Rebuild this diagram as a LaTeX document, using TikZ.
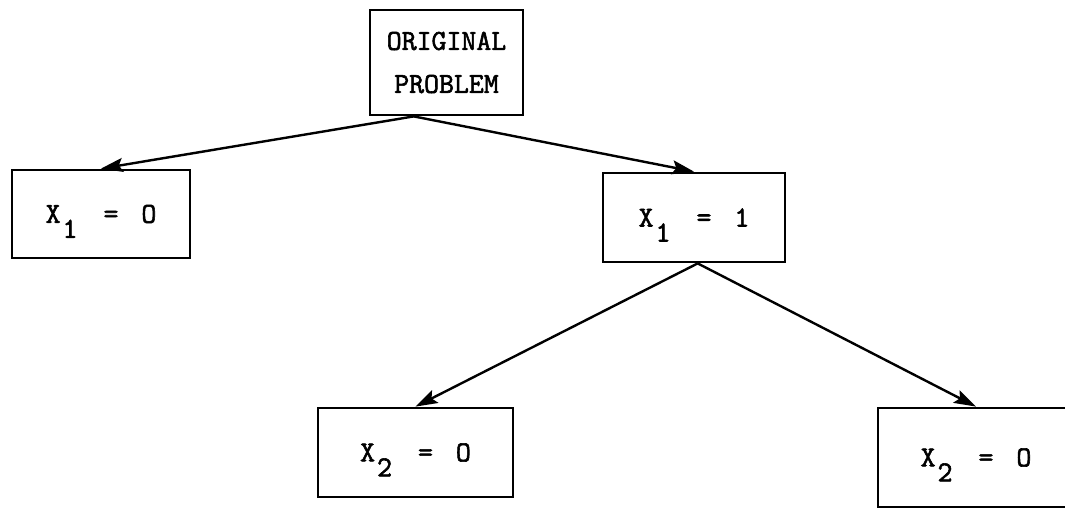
\documentclass[tikz,border=0pt]{standalone}
\usepackage{fontspec}
\newfontfamily\typefont[FakeBold=2]{Latin Modern Mono}
\usetikzlibrary{arrows.meta,calc}
\tikzset{
  box/.style={draw, line width=2.8pt, inner sep=0pt, align=center,
    font=\typefont\fontsize{29}{43}\selectfont},
  link/.style={line width=2.4pt, -{Stealth[length=22pt,width=14pt,inset=4pt]}}
}
% variable name with a lowered index, an equals sign and a value
\newcommand{\assign}[3]{#1\hspace{2pt}\smash{\raisebox{-15pt}{#2}}\hspace{26pt}=\hspace{23pt}#3}
\begin{document}
\begin{tikzpicture}[x=1pt,y=1pt]
  \useasboundingbox (0,0) rectangle (1065,-508);
  \node[box, minimum width=153pt, minimum height=105pt] (root) at (446.5,-62.5) {ORIGINAL\\PROBLEM};
  \node[box, minimum width=178pt, minimum height=88pt] (left) at (101,-214) {\assign{X}{1}{O}};
  \node[box, minimum width=182pt, minimum height=89pt] (right) at (694,-217.5) {\assign{X}{1}{1}};
  \node[box, minimum width=195pt, minimum height=89pt] (rl) at (415.5,-452.5) {\assign{X}{2}{O}};
  \node[box, minimum width=196pt, minimum height=99pt] (rr) at (976,-457.5) {\assign{X}{2}{O}};
  \coordinate (rootfoot) at ($(root.south west)!0.29!(root.south east)$);
  \coordinate (rightfoot) at ($(right.south west)!0.52!(right.south east)$);
  \draw[link] (rootfoot) -- (left.north);
  \draw[link] (rootfoot) -- (right.north);
  \draw[link] (rightfoot) -- (rl.north);
  \draw[link] (rightfoot) -- (rr.north);
\end{tikzpicture}
\end{document}
